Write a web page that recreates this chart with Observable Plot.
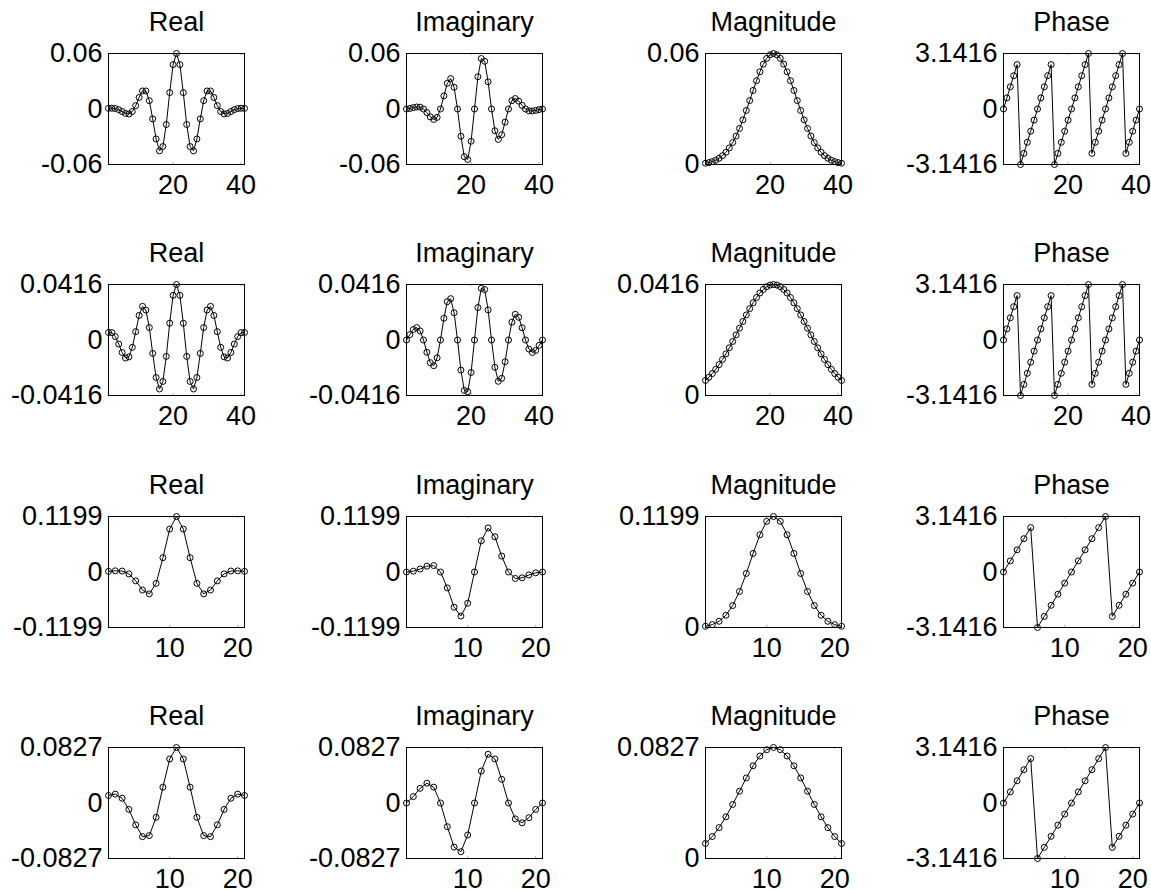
<!DOCTYPE html>
<html>
<head>
<meta charset="utf-8">
<script src="https://cdn.jsdelivr.net/npm/d3@7"></script>
<script src="https://cdn.jsdelivr.net/npm/@observablehq/plot@0.6"></script>
<style>
  html, body { margin: 0; padding: 0; background: #fff; }
  #fig { position: relative; width: 1151px; height: 890px; background: #fff; overflow: hidden; }
  .cell { position: absolute; }
  .cell svg { overflow: visible; }
</style>
</head>
<body>
<div id="fig"></div>
<script>
// ---------- data ----------
const panelTitles = ["Real", "Imaginary", "Magnitude", "Phase"];

const x41 = [1,2,3,4,5,6,7,8,9,10,11,12,13,14,15,16,17,18,19,20,21,22,23,24,25,26,27,28,29,30,31,32,33,34,35,36,37,38,39,40,41];
const x21 = [1,2,3,4,5,6,7,8,9,10,11,12,13,14,15,16,17,18,19,20,21];
const xTicks41 = [20, 40];
const xTicks21 = [10, 20];

// row 1
const real1 = [0.00067,0.00083,0.00049,-0.00072,-0.00273,-0.00477,-0.00536,-0.00277,0.00367,0.01244,0.01947,0.01950,0.00902,-0.01068,-0.03236,-0.04526,-0.04052,-0.01674,0.01772,0.04797,0.05997,0.04797,0.01772,-0.01674,-0.04052,-0.04526,-0.03236,-0.01068,0.00902,0.01950,0.01947,0.01244,0.00367,-0.00277,-0.00536,-0.00477,-0.00273,-0.00072,0.00049,0.00083,0.00067];
const imag1 = [0,0.00061,0.00149,0.00221,0.00198,0,-0.00389,-0.00852,-0.01129,-0.00904,0,0.01417,0.02776,0.03287,0.02351,0,-0.02944,-0.05154,-0.05453,-0.03485,0,0.03485,0.05453,0.05154,0.02944,0,-0.02351,-0.03287,-0.02776,-0.01417,0,0.00904,0.01129,0.00852,0.00389,0,-0.00198,-0.00221,-0.00149,-0.00061,0];
const mag1 = [0.00067,0.00103,0.00157,0.00232,0.00337,0.00477,0.00661,0.00896,0.01187,0.01537,0.01947,0.02411,0.02919,0.03456,0.04000,0.04526,0.05009,0.05419,0.05733,0.05929,0.05997,0.05929,0.05733,0.05419,0.05009,0.04526,0.04000,0.03456,0.02919,0.02411,0.01947,0.01537,0.01187,0.00896,0.00661,0.00477,0.00337,0.00232,0.00157,0.00103,0.00067];
const phase1 = [0,0.6283,1.2566,1.8850,2.5133,-3.1416,-2.5133,-1.8850,-1.2566,-0.6283,0,0.6283,1.2566,1.8850,2.5133,-3.1416,-2.5133,-1.8850,-1.2566,-0.6283,0,0.6283,1.2566,1.8850,2.5133,3.1416,-2.5133,-1.8850,-1.2566,-0.6283,0,0.6283,1.2566,1.8850,2.5133,3.1416,-2.5133,-1.8850,-1.2566,-0.6283,0];

// row 2
const real2 = [0.00563,0.00553,0.00254,-0.00303,-0.00935,-0.01350,-0.01262,-0.00552,0.00625,0.01836,0.02521,0.02243,0.00933,-0.01005,-0.02809,-0.03668,-0.03104,-0.01228,0.01259,0.03346,0.04157,0.03346,0.01259,-0.01228,-0.03104,-0.03668,-0.02809,-0.01005,0.00933,0.02243,0.02521,0.01836,0.00625,-0.00552,-0.01262,-0.01350,-0.00935,-0.00303,0.00254,0.00553,0.00563];
const imag2 = [0,0.00402,0.00783,0.00932,0.00679,0,-0.00917,-0.01699,-0.01924,-0.01334,0,0.01630,0.02870,0.03095,0.02041,0,-0.02255,-0.03780,-0.03875,-0.02431,0,0.02431,0.03875,0.03780,0.02255,0,-0.02041,-0.03095,-0.02870,-0.01630,0,0.01334,0.01924,0.01699,0.00917,0,-0.00679,-0.00932,-0.00783,-0.00402,0];
const mag2 = [0.00563,0.00684,0.00823,0.00980,0.01156,0.01350,0.01560,0.01786,0.02023,0.02270,0.02521,0.02773,0.03018,0.03254,0.03472,0.03668,0.03837,0.03974,0.04074,0.04136,0.04157,0.04136,0.04074,0.03974,0.03837,0.03668,0.03472,0.03254,0.03018,0.02773,0.02521,0.02270,0.02023,0.01786,0.01560,0.01350,0.01156,0.00980,0.00823,0.00684,0.00563];
const phase2 = [0,0.6283,1.2566,1.8850,2.5133,-3.1416,-2.5133,-1.8850,-1.2566,-0.6283,0,0.6283,1.2566,1.8850,2.5133,-3.1416,-2.5133,-1.8850,-1.2566,-0.6283,0,0.6283,1.2566,1.8850,2.5133,3.1416,-2.5133,-1.8850,-1.2566,-0.6283,0,0.6283,1.2566,1.8850,2.5133,3.1416,-2.5133,-1.8850,-1.2566,-0.6283,0];

// row 3
const real3 = [0.00133,0.00253,0.00208,-0.00408,-0.01919,-0.03892,-0.04721,-0.02470,0.03094,0.09271,0.11987,0.09271,0.03094,-0.02470,-0.04721,-0.03892,-0.01919,-0.00408,0.00208,0.00253,0.00133];
const imag3 = [0,0.00184,0.00640,0.01257,0.01394,0,-0.03430,-0.07604,-0.09523,-0.06736,0,0.06736,0.09523,0.07604,0.03430,0,-0.01394,-0.01257,-0.00640,-0.00184,0];
const mag3 = [0.00133,0.00313,0.00673,0.01322,0.02372,0.03892,0.05835,0.07995,0.10013,0.11460,0.11987,0.11460,0.10013,0.07995,0.05835,0.03892,0.02372,0.01322,0.00673,0.00313,0.00133];
const phase3 = [0,0.6283,1.2566,1.8850,2.5133,-3.1416,-2.5133,-1.8850,-1.2566,-0.6283,0,0.6283,1.2566,1.8850,2.5133,3.1416,-2.5133,-1.8850,-1.2566,-0.6283,0];

// row 4
const real4 = [0.01120,0.01324,0.00711,-0.00959,-0.03257,-0.05017,-0.04860,-0.02135,0.02360,0.06559,0.08272,0.06559,0.02360,-0.02135,-0.04860,-0.05017,-0.03257,-0.00959,0.00711,0.01324,0.01120];
const imag4 = [0,0.00962,0.02188,0.02952,0.02367,0,-0.03531,-0.06571,-0.07263,-0.04766,0,0.04766,0.07263,0.06571,0.03531,0,-0.02367,-0.02952,-0.02188,-0.00962,0];
const mag4 = [0.01120,0.01637,0.02300,0.03104,0.04026,0.05017,0.06007,0.06909,0.07636,0.08108,0.08272,0.08108,0.07636,0.06909,0.06007,0.05017,0.04026,0.03104,0.02300,0.01637,0.01120];
const phase4 = [0,0.6283,1.2566,1.8850,2.5133,-3.1416,-2.5133,-1.8850,-1.2566,-0.6283,0,0.6283,1.2566,1.8850,2.5133,3.1416,-2.5133,-1.8850,-1.2566,-0.6283,0];

// y-axis limits / tick labels
const peakValues = [0.05997, 0.04157, 0.11987, 0.08272];
const peakLabels = ["0.06", "0.0416", "0.1199", "0.0827"];
const phaseLimit = 3.1416;
const phaseLabels = ["-3.1416", "0", "3.1416"];

// ---------- layout ----------
const frameLeft = [108, 406, 705, 1003];
const frameTop = [53, 284, 516, 747];
const frameW = 136, frameH = 111;
const mL = 112, mR = 12, mT = 53, mB = 31;
const FONT = "'Liberation Sans', Arial, Helvetica, sans-serif";
const FS = 27;

const rows = [
  {x: x41, s: [real1, imag1, mag1, phase1], xt: xTicks41},
  {x: x41, s: [real2, imag2, mag2, phase2], xt: xTicks41},
  {x: x21, s: [real3, imag3, mag3, phase3], xt: xTicks21},
  {x: x21, s: [real4, imag4, mag4, phase4], xt: xTicks21}
];

const fig = document.getElementById("fig");

rows.forEach((row, r) => {
  const A = peakValues[r];
  row.s.forEach((series, c) => {
    const data = row.x.map((xv, k) => ({x: xv, y: series[k]}));
    let domain, ticks, labels;
    if (c < 2) {
      domain = [-A, A]; ticks = [-A, 0, A]; labels = ["-" + peakLabels[r], "0", peakLabels[r]];
    } else if (c === 2) {
      domain = [0, A]; ticks = [0, A]; labels = ["0", peakLabels[r]];
    } else {
      domain = [-phaseLimit, phaseLimit]; ticks = [-phaseLimit, 0, phaseLimit]; labels = phaseLabels;
    }
    const labelMap = new Map(ticks.map((t, i) => [t, labels[i]]));
    const N = row.x.length;
    const chart = Plot.plot({
      width: mL + frameW + mR,
      height: mT + frameH + mB,
      marginLeft: mL, marginRight: mR, marginTop: mT, marginBottom: mB,
      style: {fontFamily: FONT, fontSize: FS + "px", color: "black", background: "white", overflow: "visible"},
      x: {type: "linear", domain: [1, N], label: null},
      y: {type: "linear", domain, label: null},
      marks: [
        Plot.axisX({ticks: row.xt, tickSize: 0, tickPadding: 10, tickFormat: d => String(d), fontSize: FS, label: null}),
        Plot.axisY({ticks, tickSize: 0, tickPadding: 6, tickFormat: d => labelMap.get(d), fontSize: FS, label: null}),
        Plot.ruleX(row.xt, {x: d => d, insetTop: frameH - 2, stroke: "#aaa", strokeWidth: 1}),
        Plot.ruleX(row.xt, {x: d => d, insetBottom: frameH - 2, stroke: "#aaa", strokeWidth: 1}),
        Plot.line(data, {x: "x", y: "y", stroke: "black", strokeWidth: 1}),
        Plot.dot(data, {x: "x", y: "y", r: 3, stroke: "black", strokeWidth: 1, fill: "none"}),
        Plot.frame({stroke: "black", strokeWidth: 1}),
        Plot.text([panelTitles[c]], {frameAnchor: "top", dy: -31, lineAnchor: "middle", fontSize: FS, fill: "black"})
      ]
    });
    const cell = document.createElement("div");
    cell.className = "cell";
    cell.style.left = (frameLeft[c] - mL) + "px";
    cell.style.top = (frameTop[r] - mT) + "px";
    cell.appendChild(chart);
    fig.appendChild(cell);
  });
});
</script>
</body>
</html>
